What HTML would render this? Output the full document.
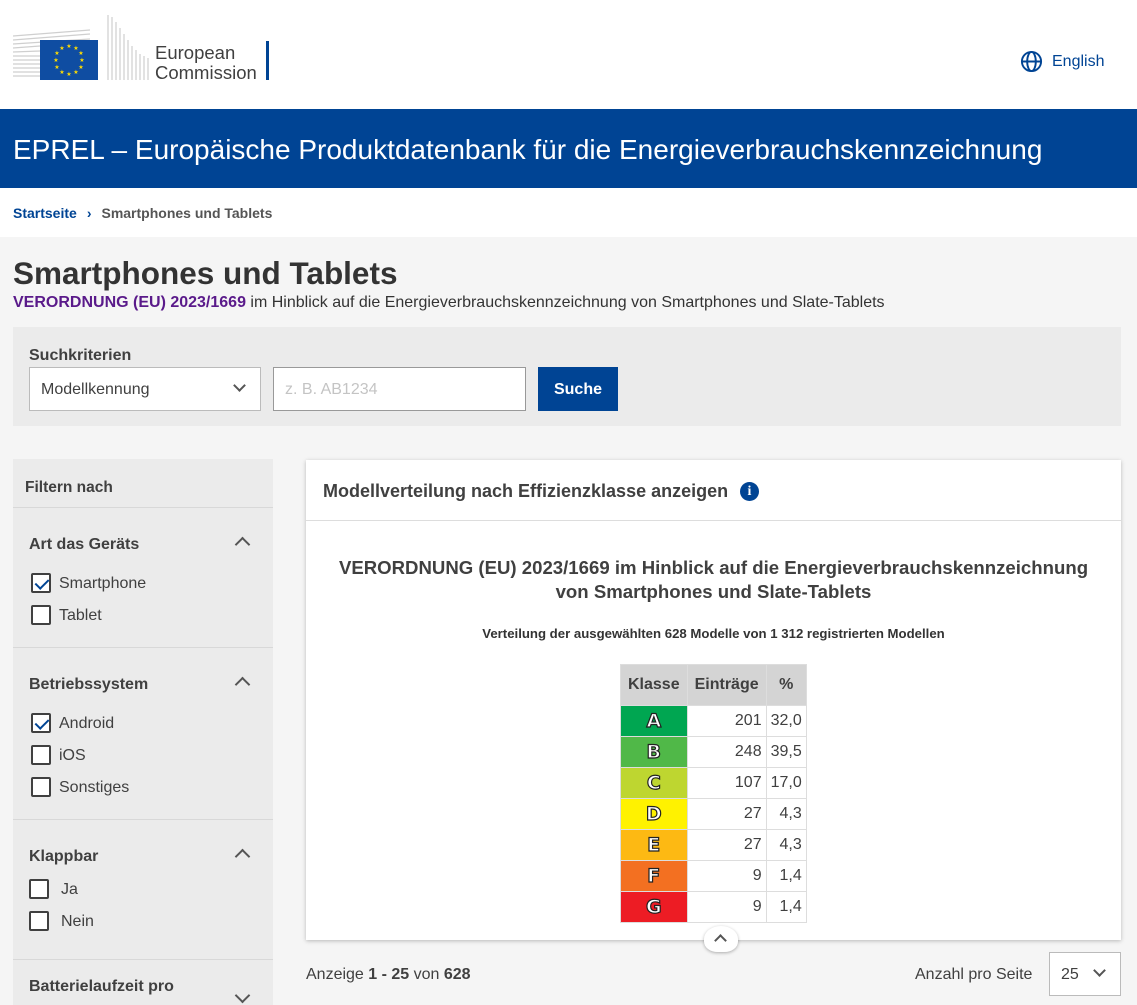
<!DOCTYPE html>
<html><head><meta charset="utf-8"><style>
*{box-sizing:border-box;margin:0;padding:0}
body{width:1137px;height:1005px;overflow:hidden;background:#f5f5f5;font-family:"Liberation Sans",sans-serif;color:#404040;position:relative}
.abs{position:absolute}
.cb{position:absolute;width:20px;height:20px;border:2px solid #404040;background:#fff;border-radius:2px}
.cb.on::after{content:"";position:absolute;left:5px;top:1px;width:6px;height:11px;border:solid #004494;border-width:0 2.5px 2.5px 0;transform:rotate(45deg)}
.lbl{position:absolute;font-size:16px;color:#404040}
.sec{position:absolute;font-size:16px;font-weight:bold;color:#404040}
.chev{position:absolute;width:11px;height:11px;border:solid #555;border-width:2px 0 0 2px;transform:rotate(45deg)}
.sep{position:absolute;left:13px;width:260px;height:1px;background:#d8d8d8}
table{border-collapse:collapse;font-size:16px}
td,th{border:1px solid #ddd;height:31px}
th{background:#d4d4d4;height:41px;padding:0 7px;font-weight:bold;color:#404040}
td.n{text-align:right;padding:0 4px;background:#fff}
td.c{width:66px;text-align:center;font-weight:900;font-size:19px;color:#fff;-webkit-text-stroke:1.2px #222;font-family:"DejaVu Sans",sans-serif}
</style></head><body>
<div class="abs" style="left:0;top:0;width:1137px;height:109px;background:#fff"></div>
<svg class="abs" style="left:12px;top:12px" width="260" height="72">
<g stroke="#cfcfcf" stroke-width="1.2">
<line x1="1" y1="24" x2="78" y2="18"/><line x1="1" y1="28" x2="78" y2="22"/><line x1="1" y1="32" x2="78" y2="27"/><line x1="1" y1="36" x2="28" y2="34"/><line x1="1" y1="40" x2="28" y2="39"/><line x1="1" y1="44" x2="28" y2="44"/><line x1="1" y1="48" x2="28" y2="48"/><line x1="1" y1="52" x2="28" y2="52"/><line x1="1" y1="56" x2="28" y2="56"/><line x1="1" y1="60" x2="28" y2="60"/><line x1="1" y1="64" x2="28" y2="64"/>
<line x1="96" y1="3" x2="96" y2="68"/><line x1="100" y1="5" x2="100" y2="68"/><line x1="104" y1="10" x2="104" y2="68"/><line x1="108" y1="16" x2="108" y2="68"/><line x1="112" y1="22" x2="112" y2="68"/><line x1="116" y1="28" x2="116" y2="68"/><line x1="120" y1="34" x2="120" y2="68"/><line x1="124" y1="38" x2="124" y2="68"/><line x1="128" y1="42" x2="128" y2="68"/><line x1="132" y1="44" x2="132" y2="68"/><line x1="136" y1="46" x2="136" y2="68"/>
</g>
<rect x="28" y="28" width="58" height="40" fill="#0f4da2"/>
<g fill="#ffdd00" font-size="6" text-anchor="middle">
<text x="57" y="36">★</text><text x="64" y="38">★</text><text x="69" y="43">★</text><text x="70" y="50">★</text><text x="69" y="57">★</text><text x="64" y="62">★</text><text x="57" y="64">★</text><text x="50" y="62">★</text><text x="45" y="57">★</text><text x="44" y="50">★</text><text x="45" y="43">★</text><text x="50" y="38">★</text></g>
<text x="143" y="47" font-size="18.5" fill="#404040" font-family="Liberation Sans">European</text>
<text x="143" y="67" font-size="18.5" fill="#404040" font-family="Liberation Sans">Commission</text>
<rect x="254" y="29" width="3" height="39" fill="#004494"/>
</svg>
<svg class="abs" style="left:1020px;top:50px" width="23" height="23" viewBox="0 0 24 24" fill="none" stroke="#004494" stroke-width="2"><circle cx="12" cy="12" r="10"/><ellipse cx="12" cy="12" rx="4.5" ry="10"/><line x1="2" y1="12" x2="22" y2="12"/></svg>
<div class="abs" style="left:1052px;top:53px;font-size:16px;color:#004494">English</div>
<div class="abs" style="left:0;top:109px;width:1137px;height:79px;background:#004494;color:#fff;font-size:28px;padding:25px 13px">EPREL – Europäische Produktdatenbank für die Energieverbrauchskennzeichnung</div>
<div class="abs" style="left:0;top:188px;width:1137px;height:49px;background:#fff;font-size:14px;font-weight:bold;padding:17px 13px"><span style="color:#004494">Startseite</span><span style="color:#004494;margin:0 10px">›</span><span style="color:#555">Smartphones und Tablets</span></div>
<div class="abs" style="left:13px;top:255px;font-size:31.5px;font-weight:bold;color:#333">Smartphones und Tablets</div>
<div class="abs" style="left:13px;top:294px;font-size:16px;color:#333"><span style="color:#5a1a8a;font-weight:bold">VERORDNUNG (EU) 2023/1669</span> im Hinblick auf die Energieverbrauchskennzeichnung von Smartphones und Slate-Tablets</div>
<div class="abs" style="left:13px;top:327px;width:1108px;height:99px;background:#ebebeb"></div>
<div class="abs sec" style="left:29px;top:347px">Suchkriterien</div>
<div class="abs" style="left:29px;top:367px;width:232px;height:44px;background:#fff;border:1px solid #bbb;font-size:16px;padding:13px 11px">Modellkennung</div>
<div class="chev" style="left:235px;top:381px;transform:rotate(225deg);width:9px;height:9px"></div>
<div class="abs" style="left:273px;top:367px;width:253px;height:44px;background:#fff;border:1px solid #999;font-size:16px;padding:13px 11px;color:#c4c4c4">z. B. AB1234</div>
<div class="abs" style="left:538px;top:367px;width:80px;height:44px;background:#004494;color:#fff;font-size:16px;font-weight:bold;text-align:center;line-height:46px">Suche</div>
<div class="abs" style="left:13px;top:459px;width:260px;height:546px;background:#ebebeb"></div>
<div class="sec" style="left:25px;top:479px;font-size:15.5px">Filtern nach</div>
<div class="sep" style="top:507px"></div><div class="sep" style="top:647px"></div><div class="sep" style="top:819px"></div><div class="sep" style="top:959px"></div>
<div class="sec" style="left:29px;top:536px">Art das Geräts</div><div class="chev" style="left:237px;top:539px"></div>
<div class="cb on" style="left:31px;top:573px"></div><div class="lbl" style="left:59px;top:575px">Smartphone</div>
<div class="cb" style="left:31px;top:605px"></div><div class="lbl" style="left:59px;top:607px">Tablet</div>
<div class="sec" style="left:29px;top:676px">Betriebssystem</div><div class="chev" style="left:237px;top:679px"></div>
<div class="cb on" style="left:31px;top:713px"></div><div class="lbl" style="left:59px;top:715px">Android</div>
<div class="cb" style="left:31px;top:745px"></div><div class="lbl" style="left:59px;top:747px">iOS</div>
<div class="cb" style="left:31px;top:777px"></div><div class="lbl" style="left:59px;top:779px">Sonstiges</div>
<div class="sec" style="left:29px;top:848px">Klappbar</div><div class="chev" style="left:237px;top:851px"></div>
<div class="cb" style="left:29px;top:879px"></div><div class="lbl" style="left:61px;top:881px">Ja</div>
<div class="cb" style="left:29px;top:911px"></div><div class="lbl" style="left:61px;top:913px">Nein</div>
<div class="sec" style="left:29px;top:978px">Batterielaufzeit pro</div><div class="chev" style="left:237px;top:990px;transform:rotate(225deg)"></div>
<div class="abs" style="left:306px;top:460px;width:815px;height:480px;background:#fff;box-shadow:0 1px 4px rgba(0,0,0,.25)"></div>
<div class="abs" style="left:323px;top:481px;font-size:18px;font-weight:bold;color:#404040">Modellverteilung nach Effizienzklasse anzeigen</div>
<div class="abs" style="left:740px;top:482px;width:19px;height:19px;border-radius:50%;background:#004494;color:#fff;font-size:14px;font-weight:bold;text-align:center;line-height:19px;font-family:'Liberation Serif',serif">i</div>
<div class="abs" style="left:306px;top:520px;width:815px;height:1px;background:#ddd"></div>
<div class="abs" style="left:306px;top:556px;width:815px;text-align:center;font-size:18.6px;font-weight:bold;line-height:24px;color:#404040">VERORDNUNG (EU) 2023/1669 im Hinblick auf die Energieverbrauchskennzeichnung<br>von Smartphones und Slate-Tablets</div>
<div class="abs" style="left:306px;top:626px;width:815px;text-align:center;font-size:13.2px;font-weight:bold;color:#333">Verteilung der ausgewählten 628 Modelle von 1 312 registrierten Modellen</div>
<table class="abs" id="tbl" style="left:620px;top:664px"><tr><th>Klasse</th><th>Einträge</th><th>%</th></tr></table>
<div class="abs" style="left:704px;top:926px;width:34px;height:26px;border-radius:50% 50% 40% 40%;background:#fff;box-shadow:0 1px 3px rgba(0,0,0,.3)"></div>
<div class="chev" style="left:716px;top:936px;width:9px;height:9px"></div>
<div class="abs" style="left:306px;top:966px;font-size:16px">Anzeige <b>1 - 25</b> von <b>628</b></div>
<div class="abs" style="left:915px;top:966px;font-size:16px">Anzahl pro Seite</div>
<div class="abs" style="left:1049px;top:952px;width:72px;height:44px;background:#fff;border:1px solid #bbb;font-size:16px;padding:13px 11px">25</div>
<div class="chev" style="left:1095px;top:966px;transform:rotate(225deg);width:9px;height:9px"></div>
<script>
const classes=["A","B","C","D","E","F","G"];
const counts=[201,248,107,27,27,9,9];
const percents=["32,0","39,5","17,0","4,3","4,3","1,4","1,4"];
const colors=["#00a651","#50b848","#bed630","#fff200","#fdb913","#f37021","#ed1c24"];
const t=document.getElementById('tbl');
classes.forEach((c,i)=>{
 const tr=document.createElement('tr');
 
 
 tr.innerHTML='<td class="c" style="background:'+colors[i]+'">'+c+'</td><td class="n">'+counts[i]+'</td><td class="n">'+percents[i]+'</td>';
 t.appendChild(tr);
});
</script>
</body></html>
